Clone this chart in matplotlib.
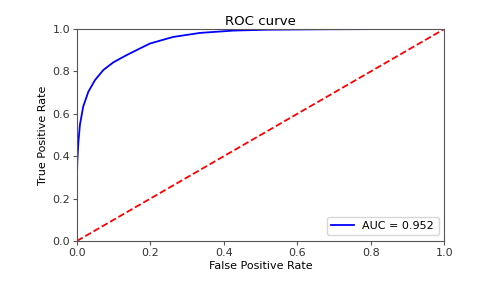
import matplotlib
matplotlib.use("Agg")
import matplotlib.pyplot as plt

fpr = [0.0, 0.0, 0.001, 0.004, 0.008, 0.017, 0.031, 0.049, 0.072, 0.099, 0.135, 0.172, 0.199, 0.262, 0.335, 0.426, 0.517, 0.65, 0.8, 1.0]
tpr = [0.0, 0.30, 0.374, 0.468, 0.547, 0.634, 0.704, 0.759, 0.807, 0.843, 0.877, 0.909, 0.932, 0.963, 0.982, 0.993, 0.997, 0.999, 1.0, 1.0]
auc_label = "AUC = 0.952"
diag = [0, 1]

plt.rcParams['font.size'] = 8
fig = plt.figure(figsize=(4.87, 2.91), dpi=100)
ax = fig.add_axes([0.158, 0.172, 0.754, 0.728])
ax.plot(fpr, tpr, color='b', lw=1.3, label=auc_label)
ax.plot(diag, diag, 'r--', lw=1.3)
ax.set_xlim(0, 1)
ax.set_ylim(0, 1)
ax.set_title("ROC curve", fontsize=9.6, pad=3)
ax.set_xlabel("False Positive Rate", labelpad=2)
ax.set_ylabel("True Positive Rate", labelpad=3)
for s in ax.spines.values():
    s.set_color('#555555')
ax.tick_params(colors='#555555', labelcolor='#333333', length=3, width=0.8, pad=2)
ax.legend(loc='lower right', fontsize=8)
fig.savefig("out.png", dpi=100)
